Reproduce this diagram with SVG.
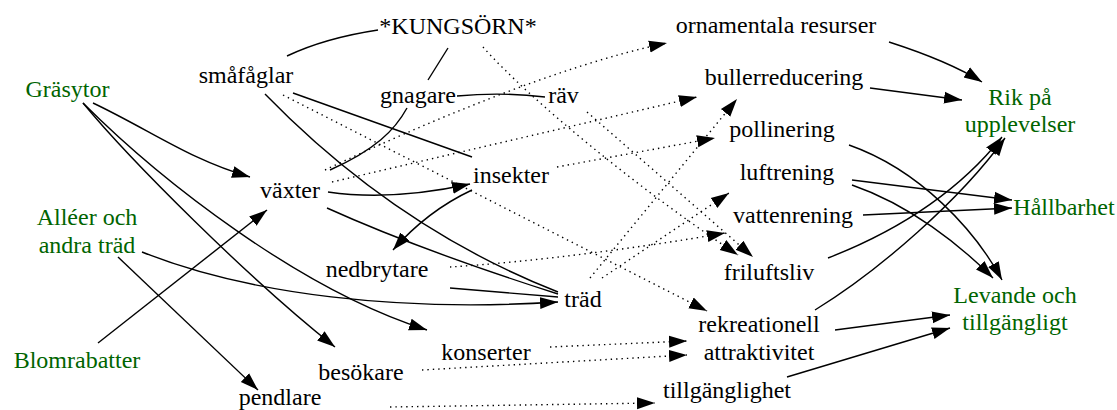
<svg xmlns="http://www.w3.org/2000/svg" width="1117" height="410" viewBox="0 0 1117 410">
<style>
text{font-family:"Liberation Serif","Times New Roman",serif;font-size:24px;text-anchor:middle;fill:#000}
.g text{fill:#006400}
.e path{fill:none;stroke:#000;stroke-width:1.4}
.e .d{stroke-dasharray:1.4,4}
.e .a{marker-end:url(#ah)}
</style>
<defs>
<marker id="ah" markerUnits="userSpaceOnUse" markerWidth="20" markerHeight="14" refX="18" refY="6" orient="auto" viewBox="0 0 20 12">
<path d="M0,0 L18,6 L0,12 Z" fill="#000"/>
</marker>
</defs>
<g class="e" id="connectors">
<path d="M287,56 Q325,38 378,30"/>
<path d="M428,80 L448,48"/>
<path d="M457,96 C490,93 520,94 545,97"/>
<path d="M407,108 C395,130 375,150 330,170"/>
<path d="M293,93 L472,157"/>
<path d="M265,94 C300,130 400,230 558,292"/>
<path d="M327,208 Q420,250 558,294"/>
<path d="M450,288 L558,297"/>
<path class="a" d="M93,103 C150,130 190,160 250,177"/>
<path class="a" d="M83,103 C130,160 250,280 335,347"/>
<path class="a" d="M83,103 C160,180 300,290 427,330"/>
<path class="a" d="M142,252 C250,295 400,312 558,302"/>
<path class="a" d="M118,257 L258,390"/>
<path class="a" d="M98,343 L267,210"/>
<path class="a" d="M328,192 C370,198 420,195 470,184"/>
<path class="a" d="M472,190 C440,205 415,225 393,250"/>
<path class="a" d="M889,42 C920,52 955,65 982,82"/>
<path class="a" d="M870,88 L962,100"/>
<path class="a" d="M849,145 C920,170 975,230 1002,280"/>
<path class="a" d="M852,180 L1012,200"/>
<path class="a" d="M852,185 C910,205 960,245 993,278"/>
<path class="a" d="M863,215 L1012,208"/>
<path class="a" d="M828,258 C900,230 960,190 1002,137"/>
<path class="a" d="M815,310 C880,270 960,200 1005,138"/>
<path class="a" d="M835,330 L950,315"/>
<path class="a" d="M787,377 L950,328"/>
<path class="a d" d="M325,170 C420,125 560,65 667,43"/>
<path class="a d" d="M332,182 L697,97"/>
<path class="a d" d="M557,167 L715,138"/>
<path class="a d" d="M483,47 C530,100 640,190 738,255"/>
<path class="a d" d="M587,112 L753,257"/>
<path class="a d" d="M283,95 L707,311"/>
<path class="a d" d="M450,267 C530,262 640,248 725,233"/>
<path class="a d" d="M590,278 L737,99"/>
<path class="a d" d="M602,278 L729,193"/>
<path class="a d" d="M550,347 L687,341"/>
<path class="a d" d="M422,370 L687,355"/>
<path class="a d" d="M390,407 L655,403"/>
</g>
<g id="kungsorn"><text x="458" y="34">*KUNGSÖRN*</text></g>
<g id="smafaglar"><text x="246" y="83">småfåglar</text></g>
<g id="grasytor" class="g"><text x="67.5" y="97">Gräsytor</text></g>
<g id="gnagare"><text x="418" y="103">gnagare</text></g>
<g id="rav"><text x="563.5" y="103">räv</text></g>
<g id="ornamentala"><text x="776" y="33">ornamentala resurser</text></g>
<g id="buller"><text x="784" y="85">bullerreducering</text></g>
<g id="rik" class="g"><text x="1020" y="105">Rik på</text><text x="1020" y="132">upplevelser</text></g>
<g id="pollinering"><text x="782" y="137">pollinering</text></g>
<g id="insekter"><text x="511" y="183">insekter</text></g>
<g id="vaxter"><text x="290" y="198">växter</text></g>
<g id="luftrening"><text x="787" y="180">luftrening</text></g>
<g id="hallbarhet" class="g"><text x="1064" y="215">Hållbarhet</text></g>
<g id="vattenrening"><text x="793" y="223">vattenrening</text></g>
<g id="alleer" class="g"><text x="87" y="225">Alléer och</text><text x="87" y="253">andra träd</text></g>
<g id="nedbrytare"><text x="377" y="277">nedbrytare</text></g>
<g id="friluftsliv"><text x="769" y="280">friluftsliv</text></g>
<g id="trad"><text x="583" y="307">träd</text></g>
<g id="levande" class="g"><text x="1015" y="303">Levande och</text><text x="1015" y="330">tillgängligt</text></g>
<g id="rekreationell"><text x="759" y="332">rekreationell</text><text x="759" y="360">attraktivitet</text></g>
<g id="konserter"><text x="486" y="360">konserter</text></g>
<g id="blomrabatter" class="g"><text x="77" y="368">Blomrabatter</text></g>
<g id="besokare"><text x="361" y="380">besökare</text></g>
<g id="tillganglighet"><text x="727" y="398">tillgänglighet</text></g>
<g id="pendlare"><text x="280" y="405">pendlare</text></g>
</svg>
